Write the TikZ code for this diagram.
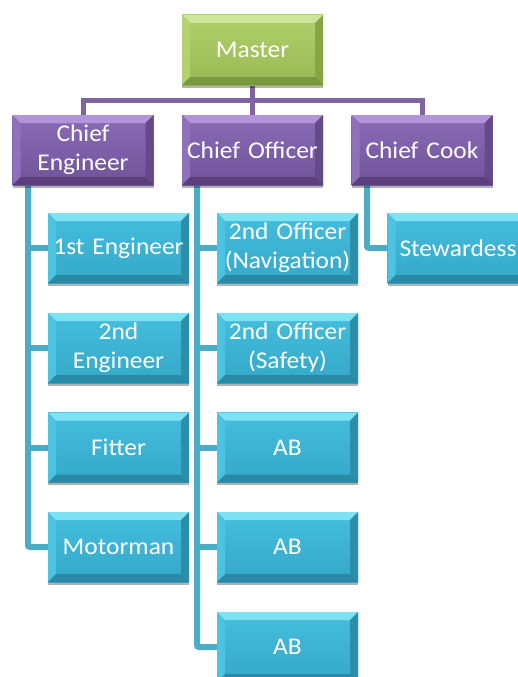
\documentclass[tikz,border=0pt]{standalone}
\usepackage{fontspec}
\setmainfont{Carlito}[FakeStretch=1.06]
\usetikzlibrary{backgrounds,shadows}
\definecolor{gT}{HTML}{B0D06A}\definecolor{gF}{HTML}{98B954}
\definecolor{gL}{HTML}{CDE59A}\definecolor{gW}{HTML}{B3D16F}
\definecolor{gR}{HTML}{86A547}\definecolor{gB}{HTML}{7A9840}
\definecolor{pT}{HTML}{8A6BB5}\definecolor{pF}{HTML}{71539A}
\definecolor{pL}{HTML}{B393DA}\definecolor{pW}{HTML}{8F70BA}
\definecolor{pR}{HTML}{654A8A}\definecolor{pB}{HTML}{5A3F7C}
\definecolor{bT}{HTML}{45BEDD}\definecolor{bF}{HTML}{34A8C8}
\definecolor{bL}{HTML}{7EE2F5}\definecolor{bW}{HTML}{4CC3E0}
\definecolor{bR}{HTML}{2C8FAA}\definecolor{bB}{HTML}{2A8AA6}
\definecolor{pline}{HTML}{8064A2}
\definecolor{bline}{HTML}{4BACC6}
\tikzset{
  box/.style={rectangle, minimum width=141pt, minimum height=70pt, inner sep=0pt,
    text width=140pt, align=center, text=white,
    font=\fontsize{24}{29}\selectfont,
    drop shadow={shadow xshift=0pt, shadow yshift=-2.5pt, fill=black, opacity=0.3},
    top color=#1T, bottom color=#1F,
    path picture={
      \fill[#1L] (path picture bounding box.north west) -- (path picture bounding box.north east)
        -- ([shift={(-8pt,-8pt)}]path picture bounding box.north east)
        -- ([shift={(8pt,-8pt)}]path picture bounding box.north west) -- cycle;
      \fill[#1W] (path picture bounding box.north west) -- ([shift={(8pt,-8pt)}]path picture bounding box.north west)
        -- ([shift={(8pt,8pt)}]path picture bounding box.south west)
        -- (path picture bounding box.south west) -- cycle;
      \fill[#1R] (path picture bounding box.north east) -- ([shift={(-8pt,-8pt)}]path picture bounding box.north east)
        -- ([shift={(-8pt,8pt)}]path picture bounding box.south east)
        -- (path picture bounding box.south east) -- cycle;
      \fill[#1B] (path picture bounding box.south west) -- (path picture bounding box.south east)
        -- ([shift={(-8pt,8pt)}]path picture bounding box.south east)
        -- ([shift={(8pt,8pt)}]path picture bounding box.south west) -- cycle;
    }},
  pconn/.style={draw=pline, line width=5pt},
  bconn/.style={draw=bline, line width=6pt, rounded corners=2pt}
}
\begin{document}
\begin{tikzpicture}[x=1pt, y=-1pt]
\useasboundingbox (0,0) rectangle (518,677);
\clip (0,0) rectangle (518,677);
% top levels
\node[box=g] (master) at (252.5,50) {Master};
\node[box=p] (ce) at (83,150) {Chief\\Engineer};
\node[box=p] (co) at (252.5,150) {Chief Officer};
\node[box=p] (cc) at (422,150) {Chief Cook};
% engineer column
\node[box=b] (e1) at (118.5,248) {1st Engineer};
\node[box=b] (e2) at (118.5,348) {2nd\\Engineer};
\node[box=b] (e3) at (118.5,447.5) {Fitter};
\node[box=b] (e4) at (118.5,547) {Motorman};
% officer column
\node[box=b] (o1) at (287.5,248) {2nd Officer\\(Navigation)};
\node[box=b] (o2) at (287.5,348) {2nd Officer\\(Safety)};
\node[box=b] (o3) at (287.5,447.5) {AB};
\node[box=b] (o4) at (287.5,547) {AB};
\node[box=b] (o5) at (287.5,647) {AB};
% cook column
\node[box=b] (s1) at (458,248) {Stewardess};
\coordinate (ev) at (28,185);
\coordinate (ov) at (197,185);
\coordinate (cv) at (367,185);
\begin{scope}[on background layer]
  \draw[pconn] (master.south) -- (co.north);
  \draw[pconn] (ce.north) -- ++(0,-14) -| (cc.north);
  \draw[bconn] (ev) |- (e4.west);
  \draw[bconn] (ev |- e1.west) -- (e1.west);
  \draw[bconn] (ev |- e2.west) -- (e2.west);
  \draw[bconn] (ev |- e3.west) -- (e3.west);
  \draw[bconn] (ov) |- (o5.west);
  \draw[bconn] (ov |- o1.west) -- (o1.west);
  \draw[bconn] (ov |- o2.west) -- (o2.west);
  \draw[bconn] (ov |- o3.west) -- (o3.west);
  \draw[bconn] (ov |- o4.west) -- (o4.west);
  \draw[bconn] (cv) |- (s1.west);
\end{scope}
\end{tikzpicture}
\end{document}
